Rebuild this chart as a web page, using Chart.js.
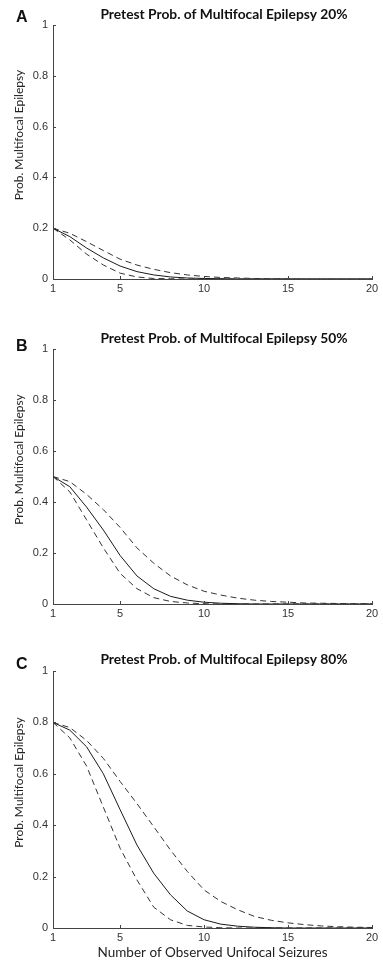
<!DOCTYPE html>
<html>
<head>
<meta charset="utf-8">
<script src="https://cdn.jsdelivr.net/npm/chart.js@4.4.0/dist/chart.umd.min.js"></script>
<style>
  body { margin: 0; background: #fff; width: 383px; height: 969px; position: relative; overflow: hidden; }
  .panel { position: absolute; left: 0; width: 383px; }
</style>
</head>
<body>
<div class="panel" style="top:0;height:300px"><canvas id="chartA"></canvas></div>
<div class="panel" style="top:324px;height:301px"><canvas id="chartB"></canvas></div>
<div class="panel" style="top:646px;height:323px"><canvas id="chartC"></canvas></div>
<script>
// number of observed unifocal seizures
const seizures = [1, 2, 3, 4, 5, 6, 7, 8, 9, 10, 11, 12, 13, 14, 15, 16, 17, 18, 19, 20];
const xTicks = [1, 5, 10, 15, 20];

// A: pretest 20%
const meanA  = [0.20, 0.167, 0.122, 0.083, 0.051, 0.029, 0.016, 0.008, 0.004, 0.002, 0.001, 0, 0, 0, 0, 0, 0, 0, 0, 0];
const upperA = [0.20, 0.180, 0.147, 0.112, 0.078, 0.055, 0.038, 0.025, 0.016, 0.010, 0.006, 0.004, 0.002, 0.001, 0.001, 0, 0, 0, 0, 0];
const lowerA = [0.20, 0.154, 0.098, 0.055, 0.023, 0.008, 0.002, 0.001, 0, 0, 0, 0, 0, 0, 0, 0, 0, 0, 0, 0];

// B: pretest 50%
const meanB  = [0.50, 0.46, 0.38, 0.29, 0.19, 0.11, 0.06, 0.03, 0.015, 0.007, 0.003, 0.001, 0, 0, 0, 0, 0, 0, 0, 0];
const upperB = [0.50, 0.48, 0.43, 0.37, 0.30, 0.22, 0.16, 0.11, 0.075, 0.05, 0.035, 0.023, 0.015, 0.01, 0.007, 0.004, 0.003, 0.002, 0.001, 0.001];
const lowerB = [0.50, 0.44, 0.33, 0.22, 0.12, 0.06, 0.025, 0.01, 0.004, 0.001, 0, 0, 0, 0, 0, 0, 0, 0, 0, 0];

// C: pretest 80%
const meanC  = [0.80, 0.77, 0.705, 0.60, 0.46, 0.323, 0.213, 0.129, 0.066, 0.032, 0.015, 0.007, 0.003, 0.001, 0, 0, 0, 0, 0, 0];
const upperC = [0.80, 0.78, 0.73, 0.66, 0.57, 0.484, 0.394, 0.303, 0.22, 0.148, 0.103, 0.071, 0.045, 0.03, 0.02, 0.013, 0.008, 0.005, 0.003, 0.002];
const lowerC = [0.80, 0.74, 0.63, 0.47, 0.31, 0.187, 0.081, 0.032, 0.01, 0.004, 0.001, 0, 0, 0, 0, 0, 0, 0, 0, 0];

const panelDecor = {
  id: 'panelDecor',
  afterDraw(chart, args, opts) {
    const { ctx, chartArea: a, scales: { x, y } } = chart;
    ctx.save();
    // inward tick marks
    ctx.strokeStyle = '#444';
    ctx.lineWidth = 1;
    ctx.beginPath();
    y.ticks.forEach(t => {
      const py = Math.round(y.getPixelForValue(t.value)) + 0.5;
      ctx.moveTo(a.left, py); ctx.lineTo(a.left + 3, py);
    });
    x.ticks.forEach(t => {
      const px = Math.round(x.getPixelForValue(t.value)) + 0.5;
      ctx.moveTo(px, a.bottom); ctx.lineTo(px, a.bottom - 3);
    });
    ctx.stroke();

    ctx.fillStyle = '#111';
    ctx.textBaseline = 'middle';
    ctx.font = 'bold 16px "Liberation Sans", Arial, sans-serif';
    ctx.textAlign = 'left';
    ctx.fillText(opts.letter, 16, opts.letterY);

    ctx.font = 'bold 13.8px Lato, sans-serif';
    ctx.textAlign = 'center';
    ctx.fillText(opts.title, 224, opts.titleY);

    ctx.fillStyle = '#222';
    ctx.font = '12px Lato, sans-serif';
    ctx.save();
    ctx.translate(19, (a.top + a.bottom) / 2 - 17);
    ctx.rotate(-Math.PI / 2);
    ctx.fillText('Prob. Multifocal Epilepsy', 0, 0);
    ctx.restore();

    if (opts.xTitle) {
      ctx.font = '13.5px Lato, sans-serif';
      ctx.fillText(opts.xTitle, (a.left + a.right) / 2, a.bottom + 25);
    }
    ctx.restore();
  }
};

function pts(vals) {
  return seizures.map((s, i) => ({ x: s, y: vals[i] }));
}

function makePanel(id, mean, upper, lower, deco, xAxisHeight) {
  const line = (vals, dashed) => ({
    data: pts(vals),
    borderColor: dashed ? '#333' : '#1a1a1a',
    borderWidth: 1,
    borderDash: dashed ? [6, 4] : [],
    pointRadius: 0,
    tension: 0,
    fill: false
  });
  return new Chart(document.getElementById(id), {
    type: 'line',
    data: { datasets: [line(upper, true), line(mean, false), line(lower, true)] },
    plugins: [panelDecor],
    options: {
      responsive: true,
      maintainAspectRatio: false,
      animation: false,
      layout: { padding: { top: 25, right: 11, left: 0, bottom: 0 } },
      plugins: {
        legend: { display: false },
        tooltip: { enabled: false },
        panelDecor: deco
      },
      scales: {
        x: {
          type: 'linear',
          min: 1, max: 20,
          afterBuildTicks: s => { s.ticks = xTicks.map(v => ({ value: v })); },
          afterFit: s => { s.height = xAxisHeight; },
          grid: { display: false, drawTicks: false },
          border: { display: true, color: '#444', width: 1 },
          ticks: { padding: 3, color: '#333', font: { family: '"Liberation Sans", Arial, sans-serif', size: 11 }, maxRotation: 0 }
        },
        y: {
          min: 0, max: 1,
          afterFit: s => { s.width = 53; },
          grid: { display: false, drawTicks: false },
          border: { display: true, color: '#444', width: 1 },
          ticks: {
            stepSize: 0.2, padding: 5, color: '#333',
            font: { family: '"Liberation Sans", Arial, sans-serif', size: 11 },
            callback: v => String(Math.round(v * 10) / 10)
          }
        }
      }
    }
  });
}

makePanel('chartA', meanA, upperA, lowerA,
  { letter: 'A', letterY: 18, title: 'Pretest Prob. of Multifocal Epilepsy 20%', titleY: 15 }, 21);
makePanel('chartB', meanB, upperB, lowerB,
  { letter: 'B', letterY: 23, title: 'Pretest Prob. of Multifocal Epilepsy 50%', titleY: 15 }, 21);
makePanel('chartC', meanC, upperC, lowerC,
  { letter: 'C', letterY: 19, title: 'Pretest Prob. of Multifocal Epilepsy 80%', titleY: 13.5,
    xTitle: 'Number of Observed Unifocal Seizures' }, 41);
</script>
</body>
</html>
